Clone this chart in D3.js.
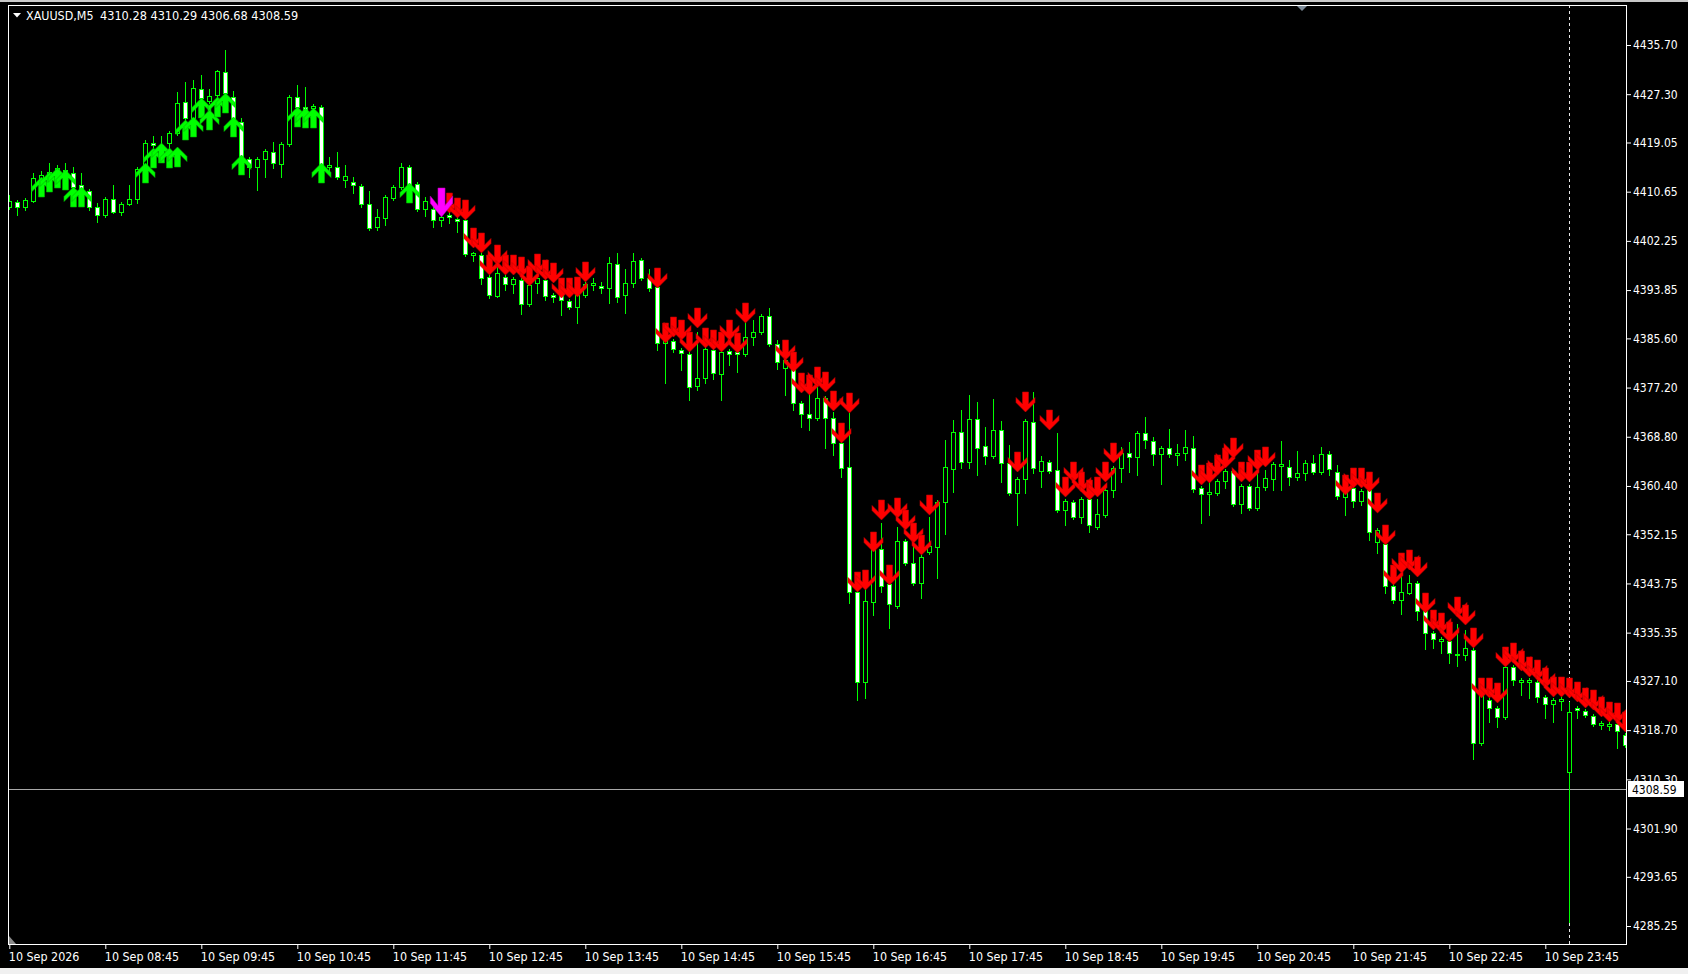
<!DOCTYPE html>
<html><head><meta charset="utf-8">
<script src="https://cdn.jsdelivr.net/npm/d3@7"></script>
<style>
html,body{margin:0;padding:0;background:#000;overflow:hidden;}
svg{display:block;}
text{font-family:"DejaVu Sans Condensed","DejaVu Sans",sans-serif;font-stretch:condensed;font-size:12px;}
</style></head><body>
<svg id="chart" width="1688" height="974"></svg>
<script>
// ---------- DATA (XAUUSD M5, bar 0 = 10 Sep 07:45) ----------
const opens = [4408.04,4408.89,4408.04,4409.06,4412.30,4412.65,4413.33,4414.35,4413.84,4411.79,
4410.77,4408.04,4406.67,4409.40,4407.18,4408.55,4409.40,4415.21,4418.97,4418.62,
4418.97,4420.67,4425.97,4423.23,4428.19,4426.14,4427.16,4431.09,4426.82,4422.55,
4416.23,4414.87,4416.23,4417.43,4415.38,4418.79,4426.82,4425.11,4424.94,4425.11,
4414.87,4414.87,4412.65,4412.30,4411.62,4408.55,4404.62,4406.16,4409.57,4411.45,
4414.87,4411.96,4407.69,4407.69,4405.82,4406.67,4405.99,4405.82,4399.84,4399.84,
4396.08,4392.84,4396.08,4394.89,4395.57,4391.47,4395.06,4395.57,4393.01,4393.01,
4391.98,4390.96,4393.01,4394.72,4394.55,4394.20,4398.30,4393.01,4395.06,4398.99,
4395.91,4394.37,4384.81,4385.15,4383.62,4382.93,4377.47,4378.83,4383.62,4379.52,
4383.44,4383.27,4382.93,4385.83,4386.69,4389.42,4384.64,4380.54,4380.54,4374.56,
4372.69,4372.00,4375.42,4372.00,4367.73,4363.64,4342.29,4326.92,4340.58,4349.63,
4343.66,4339.90,4351.00,4347.24,4343.83,4349.12,4349.97,4357.66,4363.29,4369.61,
4364.49,4371.83,4367.22,4365.51,4369.95,4364.32,4359.20,4361.59,4371.32,4362.95,
4364.49,4363.12,4356.29,4357.66,4355.10,4358.17,4353.39,4355.44,4359.71,4363.47,
4366.03,4365.34,4369.44,4368.08,4365.86,4366.88,4365.68,4366.03,4366.88,4360.05,
4359.03,4359.20,4361.24,4362.95,4357.32,4360.39,4356.63,4360.22,4361.59,4363.81,
4363.64,4361.93,4362.61,4364.32,4362.78,4365.86,4362.78,4358.51,4360.05,4357.83,
4359.71,4350.83,4350.49,4343.31,4340.92,4342.12,4343.83,4339.05,4335.29,4333.92,
4333.92,4331.53,4331.53,4332.39,4316.50,4323.85,4322.48,4320.95,4329.48,4326.92,
4326.92,4326.92,4324.36,4323.16,4323.68,4311.55,4322.48,4321.97,4321.12,4319.58,
4319.41,4319.75,4317.87];
const highs = [4410.09,4409.23,4409.57,4413.84,4414.18,4415.55,4415.21,4415.55,4414.87,4413.84,
4411.11,4408.72,4409.74,4411.79,4408.89,4411.79,4414.87,4419.48,4420.16,4420.16,
4421.01,4427.67,4429.38,4429.72,4430.58,4428.19,4431.43,4434.85,4427.85,4423.23,
4416.58,4416.58,4417.94,4419.14,4419.14,4427.16,4428.87,4428.53,4425.62,4425.45,
4416.58,4417.43,4415.21,4413.16,4411.96,4410.77,4407.69,4410.09,4411.79,4415.55,
4415.21,4412.30,4409.74,4408.04,4406.84,4407.18,4406.33,4406.16,4400.35,4400.18,
4396.42,4398.13,4396.42,4396.08,4395.91,4395.06,4396.25,4395.91,4393.35,4393.35,
4392.33,4393.35,4395.23,4395.91,4395.23,4399.50,4400.18,4397.45,4400.18,4399.33,
4397.45,4394.72,4386.18,4385.49,4383.96,4383.27,4386.69,4384.13,4383.96,4383.62,
4383.79,4383.62,4388.74,4388.74,4389.76,4390.79,4385.32,4382.25,4380.88,4374.91,
4377.13,4377.30,4375.76,4373.03,4368.08,4372.86,4342.63,4343.49,4350.14,4354.07,
4344.00,4353.39,4351.34,4350.66,4348.61,4355.10,4358.00,4368.25,4371.66,4373.37,
4375.93,4374.74,4370.47,4375.25,4371.49,4367.39,4361.91,4371.83,4376.44,4365.51,
4364.83,4369.44,4358.17,4358.00,4358.51,4358.51,4358.17,4360.05,4363.81,4367.05,
4367.90,4369.78,4372.18,4368.76,4367.22,4370.12,4367.56,4369.95,4368.93,4360.39,
4361.91,4361.59,4363.29,4363.29,4360.73,4360.73,4363.12,4363.12,4364.49,4368.08,
4364.83,4366.37,4364.83,4365.68,4367.05,4366.37,4363.98,4360.39,4360.39,4359.88,
4360.05,4353.22,4350.83,4343.66,4346.56,4345.19,4344.17,4339.39,4335.63,4334.60,
4334.26,4336.82,4335.80,4332.73,4327.26,4324.19,4322.82,4329.82,4329.82,4327.61,
4327.61,4327.26,4324.70,4324.19,4324.36,4323.51,4322.82,4322.31,4321.46,4320.26,
4320.09,4320.09,4318.21];
const lows = [4407.69,4406.67,4407.52,4408.89,4411.62,4412.30,4412.99,4412.65,4411.11,4410.09,
4407.52,4405.47,4406.33,4407.01,4406.67,4408.38,4408.72,4414.70,4418.28,4417.43,
4417.77,4420.33,4422.89,4422.89,4426.31,4425.80,4426.82,4427.16,4422.89,4414.70,
4413.16,4410.94,4413.16,4414.70,4413.16,4418.45,4424.60,4424.26,4424.26,4413.50,
4413.84,4412.82,4411.45,4410.43,4408.04,4404.11,4404.11,4404.96,4409.23,4411.11,
4411.45,4407.35,4406.50,4404.62,4404.79,4405.30,4403.77,4399.67,4398.81,4394.89,
4392.50,4392.67,4393.86,4393.35,4389.76,4391.13,4393.35,4392.15,4391.81,4389.59,
4390.62,4388.23,4392.67,4393.86,4393.35,4391.64,4391.81,4389.93,4394.37,4395.57,
4393.69,4383.62,4377.98,4383.27,4380.20,4375.08,4376.79,4377.98,4378.66,4375.08,
4381.06,4379.86,4382.59,4384.47,4386.35,4384.30,4380.37,4375.93,4373.37,4370.47,
4369.95,4371.66,4366.88,4365.68,4361.91,4340.41,4323.85,4324.19,4338.36,4342.29,
4336.14,4339.56,4346.90,4343.49,4341.26,4348.78,4344.68,4352.19,4359.37,4363.47,
4363.47,4362.28,4364.15,4365.17,4361.07,4358.85,4353.73,4359.20,4362.61,4360.22,
4362.61,4355.95,4353.73,4354.76,4354.07,4352.53,4353.05,4355.10,4358.51,4361.07,
4362.78,4362.28,4366.88,4363.98,4360.73,4365.34,4363.98,4364.83,4359.37,4354.07,
4355.44,4358.85,4360.05,4356.98,4355.78,4356.29,4356.29,4359.71,4359.71,4359.71,
4360.56,4361.42,4361.42,4362.44,4362.44,4362.28,4358.17,4355.44,4356.81,4357.15,
4351.17,4348.95,4342.12,4340.41,4338.54,4341.95,4337.51,4332.56,4332.73,4331.87,
4330.17,4329.66,4330.68,4313.77,4316.17,4320.09,4319.24,4320.60,4326.41,4324.70,
4324.19,4323.51,4320.77,4320.09,4322.14,4285.93,4320.77,4320.95,4319.41,4318.89,
4318.72,4315.65,4315.82];
const closes = [4409.06,4408.04,4409.23,4412.99,4413.50,4414.01,4414.70,4413.16,4411.45,4410.43,
4408.04,4406.67,4409.40,4407.18,4408.55,4409.40,4414.52,4418.97,4418.62,4417.77,
4420.67,4425.80,4423.23,4428.36,4426.65,4426.99,4431.26,4427.50,4423.23,4416.58,
4414.87,4416.23,4417.60,4415.55,4418.79,4426.82,4425.11,4424.60,4425.28,4413.84,
4415.21,4413.16,4413.33,4411.79,4408.55,4404.45,4406.33,4409.74,4411.45,4414.87,
4411.79,4407.69,4409.06,4405.82,4406.33,4406.33,4405.64,4400.01,4400.18,4395.91,
4393.01,4396.76,4394.89,4395.74,4391.47,4394.72,4395.91,4392.84,4392.67,4392.15,
4390.96,4393.01,4394.89,4395.06,4394.20,4398.47,4392.67,4395.06,4398.81,4395.91,
4394.20,4384.81,4385.83,4383.79,4383.10,4377.30,4378.83,4383.79,4379.69,4383.27,
4382.93,4382.93,4385.83,4386.69,4389.42,4384.64,4381.57,4381.91,4374.56,4372.69,
4372.00,4375.42,4372.00,4367.73,4363.47,4342.29,4326.92,4340.75,4349.80,4343.31,
4340.24,4351.00,4347.24,4343.83,4348.27,4350.14,4357.66,4363.64,4369.61,4364.49,
4371.83,4366.88,4365.51,4369.95,4364.32,4359.20,4361.59,4371.49,4363.47,4364.66,
4362.95,4356.29,4357.83,4355.10,4358.17,4353.73,4355.61,4359.71,4363.47,4366.03,
4365.34,4369.44,4368.25,4365.86,4366.88,4365.86,4366.03,4367.05,4359.88,4359.03,
4359.37,4361.24,4362.95,4357.32,4360.39,4356.63,4360.22,4361.76,4364.15,4364.15,
4361.93,4362.61,4364.32,4362.78,4365.86,4363.29,4358.68,4360.05,4357.83,4359.54,
4352.53,4352.88,4343.31,4340.92,4342.29,4343.83,4339.05,4335.29,4334.26,4334.26,
4331.87,4331.70,4332.73,4316.50,4325.04,4322.48,4320.95,4329.48,4327.26,4327.26,
4327.26,4324.36,4323.16,4323.85,4324.02,4321.80,4322.14,4321.29,4319.75,4319.92,
4319.75,4318.55,4316.17];

// indicator arrows: bar index + price of the arrow tip
const upArrowBars   = [4,5,6,7,8,9,17,18,19,20,21,22,23,24,25,26,27,28,29,36,37,38,39,50];
const upArrowPrices = [4413.16,4414.01,4414.70,4414.35,4411.45,4411.45,4415.55,4418.11,4418.97,4418.11,
4418.28,4422.89,4423.41,4426.65,4424.60,4426.82,4427.50,4423.41,4416.92,4425.11,4424.94,4424.94,4415.55,4412.13];
const downArrowBars = [55,56,57,58,59,60,61,62,63,64,65,66,67,68,69,70,71,72,81,82,83,84,85,86,87,88,89,90,91,92,
97,98,99,100,101,102,103,104,105,106,107,108,109,110,111,112,113,114,115,126,127,130,132,133,134,135,136,137,138,
149,150,151,152,153,154,155,156,157,167,168,169,170,171,172,173,174,175,176,177,178,179,180,181,182,183,184,185,186,
187,188,189,190,191,192,193,194,195,196,197,198,199,200,201,202];
const downArrowPrices = [4407.01,4406.16,4405.82,4401.03,4400.18,4396.42,4398.13,4396.42,4396.42,4396.08,4394.55,4396.59,
4395.57,4395.06,4392.50,4392.50,4392.67,4395.23,4394.20,4384.81,4385.83,4385.32,4383.27,4387.37,4383.96,4383.62,4383.27,
4385.32,4383.10,4388.23,
4381.91,4379.86,4376.27,4375.93,4377.30,4376.44,4373.20,4367.73,4372.86,4342.29,4342.63,4349.12,4354.59,4343.49,4354.93,
4352.88,4350.66,4348.61,4355.44,4362.78,4373.03,4369.95,4358.51,4361.07,4359.37,4358.00,4358.51,4361.07,4364.32,
4360.56,4360.90,4362.28,4363.47,4365.17,4361.07,4361.07,4363.12,4363.64,4358.85,4360.05,4360.05,4359.37,4355.78,4350.32,
4343.49,4345.54,4346.05,4344.85,4338.70,4335.80,4335.29,4333.75,4338.02,4336.65,4332.73,4324.19,4324.19,4323.34,
4329.48,4330.17,4328.80,4327.78,4327.26,4325.90,4324.36,4324.36,4324.19,4323.51,4322.48,4322.14,4320.95,4320.09,4319.92,4318.38];
const signalBars = [54];
const signalPrices = [4406.33];

// axes
const priceTicks = [4435.70,4427.30,4419.05,4410.65,4402.25,4393.85,4385.60,4377.20,4368.80,4360.40,
4352.15,4343.75,4335.35,4327.10,4318.70,4310.30,4301.90,4293.65,4285.25];
const timeTickBars = [0,12,24,36,48,60,72,84,96,108,120,132,144,156,168,180,192];
const timeTickLabels = ["10 Sep 2026","10 Sep 08:45","10 Sep 09:45","10 Sep 10:45","10 Sep 11:45","10 Sep 12:45",
"10 Sep 13:45","10 Sep 14:45","10 Sep 15:45","10 Sep 16:45","10 Sep 17:45","10 Sep 18:45","10 Sep 19:45",
"10 Sep 20:45","10 Sep 21:45","10 Sep 22:45","10 Sep 23:45"];
const separatorBar = 195; // 11 Sep 00:00
const symbolName = "XAUUSD,M5";
const headerOHLC = [4310.28, 4310.29, 4306.68, 4308.59];
const bidPrice = 4308.59;

// ---------- DRAW ----------
const svg = d3.select("#chart");
const W = 1688, H = 974;
const P = {left: 8, top: 5, right: 1626, bottom: 944};
const x = d3.scaleLinear().domain([0, 202]).range([9.3, 1625.3]);
const y = d3.scaleLinear().domain([4282.18, 4442.53]).range([944, 5]);
const GREEN = "#00ff00";

svg.append("rect").attr("width", W).attr("height", H).attr("fill", "#000");
// window chrome
svg.append("rect").attr("x", 0).attr("y", 0).attr("width", W).attr("height", 2).attr("fill", "#c8c8c8");
svg.append("rect").attr("x", 0).attr("y", 968).attr("width", W).attr("height", 6).attr("fill", "#f0f0f0");

svg.append("defs").append("clipPath").attr("id", "plotClip")
  .append("rect").attr("x", P.left + 1).attr("y", P.top + 1)
  .attr("width", P.right - P.left - 1).attr("height", P.bottom - P.top - 1);

const plot = svg.append("g").attr("clip-path", "url(#plotClip)");

// period separator
const sx = Math.round(x(separatorBar)) + 0.5;
plot.append("line").attr("x1", sx).attr("x2", sx).attr("y1", P.top).attr("y2", P.bottom)
  .attr("stroke", "#e6e6e6").attr("stroke-dasharray", "3,3").attr("stroke-width", 1);

// bid line
const by = Math.round(y(bidPrice)) + 0.5;
plot.append("line").attr("x1", P.left).attr("x2", P.right).attr("y1", by).attr("y2", by)
  .attr("stroke", "#a8a8a8").attr("stroke-width", 1);

// candles
const bars = d3.range(opens.length).map(i => ({i, o: opens[i], h: highs[i], l: lows[i], c: closes[i]}));
const cg = plot.append("g");
bars.forEach(b => {
  const cx = Math.round(x(b.i));
  const yh = Math.round(y(b.h)), yl = Math.round(y(b.l));
  const yo = Math.round(y(b.o)), yc = Math.round(y(b.c));
  const top = Math.min(yo, yc), bot = Math.max(yo, yc);
  cg.append("line").attr("x1", cx + 0.5).attr("x2", cx + 0.5).attr("y1", yh).attr("y2", yl + 1)
    .attr("stroke", GREEN).attr("stroke-width", 1);
  if (bot - top < 1) {
    cg.append("line").attr("x1", cx - 2).attr("x2", cx + 3).attr("y1", top + 0.5).attr("y2", top + 0.5)
      .attr("stroke", GREEN).attr("stroke-width", 1);
  } else {
    cg.append("rect").attr("x", cx - 1.5).attr("y", top + 0.5).attr("width", 4).attr("height", bot - top)
      .attr("fill", b.c > b.o ? "#000" : "#fff").attr("stroke", GREEN).attr("stroke-width", 1);
  }
});

// arrows (thick Wingdings-style arrow, tip at origin)
const downShape = [[0,0],[9.5,-9.5],[9.5,-14.5],[3,-8],[3,-20],[-3,-20],[-3,-8],[-9.5,-14.5],[-9.5,-9.5]];
const upShape = downShape.map(p => [p[0], -p[1]]);
const line = d3.line().curve(d3.curveLinearClosed);
const ag = plot.append("g");
upArrowBars.forEach((bi, k) => {
  ag.append("path").attr("d", line(upShape))
    .attr("transform", `translate(${Math.round(x(bi)) + 0.5},${y(upArrowPrices[k])})`)
    .attr("fill", GREEN).attr("stroke", "#00b000").attr("stroke-width", 0.6);
});
downArrowBars.forEach((bi, k) => {
  ag.append("path").attr("d", line(downShape))
    .attr("transform", `translate(${Math.round(x(bi)) + 0.5},${y(downArrowPrices[k])})`)
    .attr("fill", "#ff0000").attr("stroke", "#b80000").attr("stroke-width", 0.6);
});
signalBars.forEach((bi, k) => {
  ag.append("path").attr("d", line(downShape))
    .attr("transform", `translate(${Math.round(x(bi)) + 0.5},${y(signalPrices[k])}) scale(1.18,1.45)`)
    .attr("fill", "#ff00ff").attr("stroke", "#b000b0").attr("stroke-width", 0.4);
});

// border
svg.append("rect").attr("x", P.left + 0.5).attr("y", P.top + 0.5)
  .attr("width", P.right - P.left).attr("height", P.bottom - P.top)
  .attr("fill", "none").attr("stroke", "#ffffff").attr("stroke-width", 1);

// top marker triangle
svg.append("path").attr("d", "M1297,6 L1307,6 L1302,11 Z").attr("fill", "#7d8b99");
// bottom-left corner marker
svg.append("path").attr("d", "M9,936 L9,944 L16,944 Z").attr("fill", "#8a8a8a");

// price axis
const yAxis = d3.axisRight(y).tickValues(priceTicks).tickSize(4).tickPadding(2)
  .tickFormat(d => d.toFixed(2));
const ya = svg.append("g").attr("transform", `translate(${P.right + 1},0)`).call(yAxis);
ya.select(".domain").remove();
ya.selectAll("line").attr("stroke", "#fff");
ya.selectAll("text").attr("fill", "#fff").style("font-size", "12px");

// time axis
const xAxis = d3.axisBottom(x).tickValues(timeTickBars).tickSize(4).tickPadding(3)
  .tickFormat((d, i) => timeTickLabels[i]);
const xa = svg.append("g").attr("transform", `translate(0,${P.bottom + 1})`).call(xAxis);
xa.select(".domain").remove();
xa.selectAll("line").attr("stroke", "#fff");
xa.selectAll("text").attr("fill", "#fff").attr("text-anchor", "start").attr("dx", "-1").style("font-size", "12.4px");

// bid label
const bg = svg.append("g");
bg.append("rect").attr("x", 1628).attr("y", Math.round(y(bidPrice)) - 8).attr("width", 56).attr("height", 16).attr("fill", "#fff");
bg.append("text").attr("x", 1632).attr("y", y(bidPrice)).attr("dy", "0.35em").attr("fill", "#000")
  .text(bidPrice.toFixed(2));

// header
svg.append("path").attr("d", "M13,13 L21,13 L17,17.5 Z").attr("fill", "#fff");
svg.append("text").attr("x", 26).attr("y", 20).attr("fill", "#fff").style("font-size", "12.4px").text(symbolName);
svg.append("text").attr("x", 100).attr("y", 20).attr("fill", "#fff").style("font-size", "12.6px").text(headerOHLC.map(v => v.toFixed(2)).join(" "));
</script>
</body></html>
